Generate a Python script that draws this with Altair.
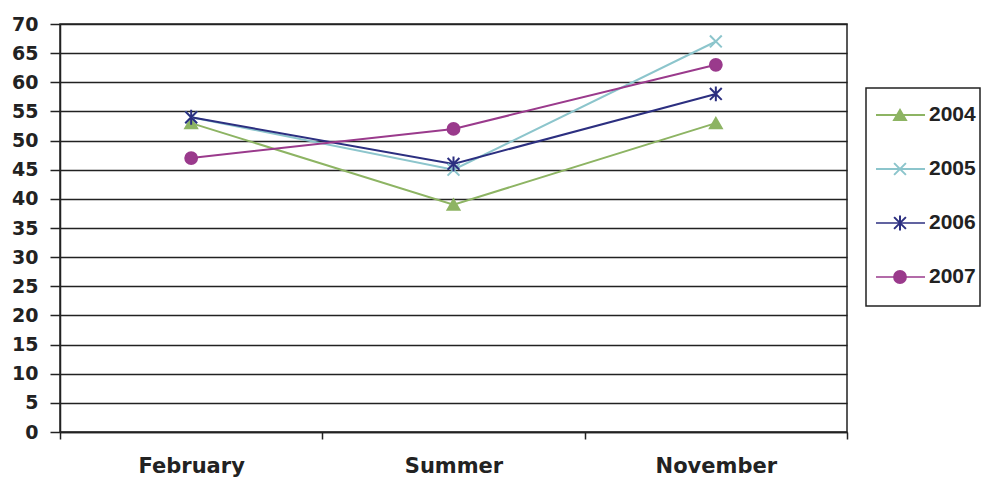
import altair as alt
import pandas as pd

periods = ["February", "Summer", "November"]
series = ["2004", "2005", "2006", "2007"]
v2004 = [53, 39, 53]
v2005 = [54, 45, 67]
v2006 = [54, 46, 58]
v2007 = [47, 52, 63]
y_ticks = list(range(0, 71, 5))

colors = ["#8db463", "#8cc5cc", "#2c2f80", "#9a3a8c"]
shapes = [
    "triangle-up",
    "M-1,-1L1,1M-1,1L1,-1",
    "M-1,-1L1,1M-1,1L1,-1M0,-1.25L0,1.25",
    "circle",
]

rows = []
for s, vals in zip(series, [v2004, v2005, v2006, v2007]):
    for p, v in zip(periods, vals):
        rows.append({"period": p, "series": s, "value": v})
df = pd.DataFrame(rows)
leg_df = pd.DataFrame({"series": series})

FONT = "DejaVu Sans"
color_scale = alt.Scale(domain=series, range=colors)
shape_scale = alt.Scale(domain=series, range=shapes)
width_scale = alt.Scale(domain=series, range=[2, 1.4, 2.2, 2])

x_enc = alt.X(
    "period:N",
    sort=periods,
    bandPosition=0.5,
    scale=alt.Scale(type="band", paddingInner=0, paddingOuter=0),
    axis=alt.Axis(
        title=None, labelAngle=0, tickBand="extent", tickSize=7, labelPadding=16,
        labelFontSize=21, grid=False,
    ),
)
y_enc = alt.Y(
    "value:Q",
    scale=alt.Scale(domain=[0, 70], nice=False),
    axis=alt.Axis(
        title=None, values=y_ticks, tickSize=10, labelPadding=12, labelFontSize=19,
        grid=True,
    ),
)

base = alt.Chart(df)
lines = base.mark_line(strokeWidth=2).encode(
    x=x_enc, y=y_enc,
    color=alt.Color("series:N", scale=color_scale, legend=None),
    strokeWidth=alt.StrokeWidth("series:N", scale=width_scale, legend=None),
)
points = base.mark_point(filled=True, size=140, strokeWidth=2, opacity=1).encode(
    x=x_enc, y=y_enc,
    color=alt.Color("series:N", scale=color_scale, legend=None),
    stroke=alt.Stroke("series:N", scale=color_scale, legend=None),
    shape=alt.Shape("series:N", scale=shape_scale, legend=None),
)
main = alt.layer(lines, points)

leg_y = alt.Y("series:N", sort=series, scale=alt.Scale(type="point", domain=series, range=[91, 253], padding=0), axis=None)
leg_base = alt.Chart(leg_df)
leg_box = alt.Chart(pd.DataFrame({"series": ["box"]})).mark_rect(
    fill="white", stroke="#222", strokeWidth=1.5
).encode(x=alt.value(806), x2=alt.value(920), y=alt.value(64), y2=alt.value(282))
leg_line = leg_base.mark_rule().encode(
    x=alt.value(816), x2=alt.value(865), y=leg_y,
    color=alt.Color("series:N", scale=color_scale, legend=None),
    strokeWidth=alt.StrokeWidth("series:N", scale=width_scale, legend=None),
)
leg_pt = leg_base.mark_point(filled=True, size=140, strokeWidth=2, opacity=1).encode(
    x=alt.value(840), y=leg_y,
    color=alt.Color("series:N", scale=color_scale, legend=None),
    stroke=alt.Stroke("series:N", scale=color_scale, legend=None),
    shape=alt.Shape("series:N", scale=shape_scale, legend=None),
)
leg_txt = leg_base.mark_text(
    align="left", baseline="middle", font="Liberation Sans", fontWeight="bold",
    fontSize=21, color="#222"
).encode(x=alt.value(869), y=leg_y, text="series:N")

chart = (
    alt.layer(main, leg_box, leg_line, leg_pt, leg_txt)
    .resolve_scale(y="independent")
    .properties(
        width=787, height=408,
        autosize=alt.AutoSizeParams(type="none"),
        padding={"left": 52, "top": 16, "right": 135, "bottom": 46},
        background="white",
    )
    .configure_view(stroke="#222", strokeWidth=1.5)
    .configure_axis(
        labelFont=FONT, labelFontWeight="bold", labelColor="#222",
        domainColor="#222", domainWidth=1.5, tickColor="#222", tickWidth=1.5,
        gridColor="#222", gridWidth=1.5, gridOpacity=1,
    )
)

chart.save("out.html", embed_options={"renderer": "svg", "actions": False})
